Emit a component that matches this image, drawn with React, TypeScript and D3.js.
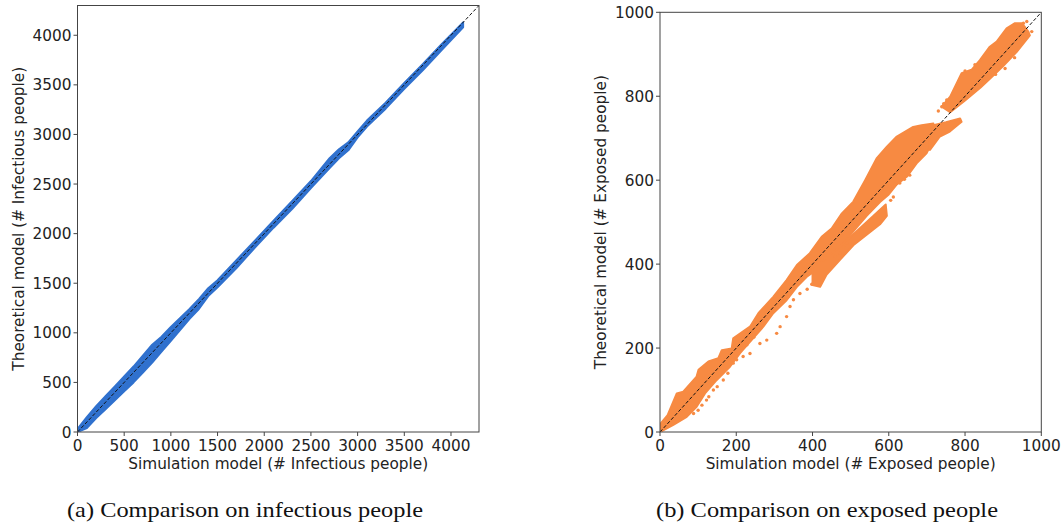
import * as d3 from "d3"

// ---- left panel: infectious people (dense band) ----
const infSim = [0, 100, 200, 300, 400, 500, 600, 700, 800, 900, 1000, 1100, 1200, 1300, 1400, 1500, 1700, 1900, 2100, 2300, 2500, 2700, 2800, 2900, 3000, 3100, 3300, 3500, 3700, 3900, 4130]
const infLow = [0, 40, 140, 230, 320, 410, 500, 600, 700, 810, 920, 1030, 1140, 1240, 1370, 1460, 1650, 1860, 2060, 2250, 2460, 2660, 2760, 2840, 2970, 3080, 3260, 3460, 3650, 3850, 4080]
const infHigh = [30, 150, 260, 360, 460, 560, 660, 770, 880, 960, 1060, 1150, 1240, 1340, 1450, 1530, 1730, 1930, 2130, 2330, 2530, 2760, 2850, 2920, 3030, 3140, 3320, 3520, 3710, 3910, 4130]
const infTicks = [0, 500, 1000, 1500, 2000, 2500, 3000, 3500, 4000]

// ---- right panel: exposed people, outlines of the dense clouds ----
const expMainUpper: [number, number][] = [
  [0, 18], [20, 40], [44, 92], [61, 96], [96, 132], [101, 148], [127, 168], [153, 176], [162, 195],
  [188, 199], [192, 223], [236, 251], [258, 283], [297, 322], [332, 362], [359, 398], [393, 426],
  [424, 465], [450, 485], [477, 521], [507, 549], [538, 600], [568, 652], [595, 680], [621, 704],
  [664, 727], [686, 731], [717, 735],
]
const expMainLower: [number, number][] = [
  [0, 0], [35, 17], [70, 36], [96, 60], [118, 92], [149, 124], [184, 156], [210, 188], [240, 219],
  [271, 251], [297, 283], [332, 314], [359, 346], [385, 370], [420, 392], [445, 410], [472, 440],
  [507, 478], [542, 515], [577, 548], [600, 566], [621, 590], [647, 608], [673, 640], [699, 664], [717, 696],
]
const expSubUpper: [number, number][] = [[400, 392], [430, 410], [470, 440], [520, 482], [560, 515], [592, 542]]
const expSubLower: [number, number][] = [
  [400, 350], [420, 346], [437, 375], [472, 410], [507, 445], [542, 470], [577, 495], [595, 515],
]
const expArmUpper: [number, number][] = [[705, 712], [717, 731], [750, 738], [787, 747]]
const expArmLower: [number, number][] = [[708, 672], [734, 704], [760, 716], [791, 739]]
const expTopUpper: [number, number][] = [
  [739, 775], [761, 799], [791, 855], [817, 863], [839, 886], [865, 918], [883, 930], [909, 962],
  [931, 974], [949, 974], [966, 954],
]
const expTopLower: [number, number][] = [
  [761, 762], [800, 790], [840, 820], [870, 846], [900, 872], [935, 905], [970, 945],
]

const expTrail: [number, number][] = [
  [122, 76], [140, 100], [166, 124], [192, 164], [201, 172], [218, 180], [236, 187],
  [262, 211], [280, 219], [306, 235], [315, 251], [332, 275], [341, 299], [350, 315], [367, 330],
  [110, 64], [128, 84], [150, 108], [178, 140], [212, 200], [228, 208], [246, 226],
  [88, 44], [100, 52], [323, 312], [336, 322], [386, 340], [398, 352],
  [472, 426], [481, 441], [490, 450], [460, 418], [520, 476],
  [603, 585], [616, 590], [629, 593], [641, 602], [655, 612], [605, 552], [612, 560],
  [730, 765], [739, 775], [752, 791], [760, 786], [744, 782],
  [953, 974], [962, 978], [975, 954], [965, 944], [956, 936], [800, 860], [826, 875],
  [880, 852], [905, 866], [930, 892],
]
const expTicks = [0, 200, 400, 600, 800, 1000]

const BLUE = "#3071ce"
const ORANGE = "#f78a42"
const FRAME = "#444"
const TXT = "#222"
const FONT = "DejaVu Sans, sans-serif"

type Panel = {
  left: number
  top: number
  right: number
  bottom: number
  max: number
  ticks: number[]
  xLabel: string
  yLabel: string
  yLabelX: number
}

function Axes({ p, children }: { p: Panel; children: (x: d3.ScaleLinear<number, number>, y: d3.ScaleLinear<number, number>) => any }) {
  const x = d3.scaleLinear().domain([0, p.max]).range([p.left, p.right])
  const y = d3.scaleLinear().domain([0, p.max]).range([p.bottom, p.top])
  const diag = `M${x(0)},${y(0)}L${x(p.max)},${y(p.max)}`
  return (
    <g>
      <defs>
        <clipPath id={`clip${p.left}`}>
          <rect x={p.left} y={p.top} width={p.right - p.left} height={p.bottom - p.top} />
        </clipPath>
      </defs>
      <g clipPath={`url(#clip${p.left})`}>
        {children(x, y)}
        <path d={diag} stroke="#111" strokeWidth={1} strokeDasharray="3.5,2" fill="none" />
      </g>
      <rect x={p.left} y={p.top} width={p.right - p.left} height={p.bottom - p.top} fill="none" stroke={FRAME} strokeWidth={1} />
      {p.ticks.map((t) => (
        <g key={"x" + t}>
          <line x1={x(t)} x2={x(t)} y1={p.bottom} y2={p.bottom + 4} stroke={FRAME} />
          <text x={x(t)} y={p.bottom + 19} textAnchor="middle" fontSize={15.3} fill={TXT} fontFamily={FONT}>
            {t}
          </text>
        </g>
      ))}
      {p.ticks.map((t) => (
        <g key={"y" + t}>
          <line x1={p.left - 4} x2={p.left} y1={y(t)} y2={y(t)} stroke={FRAME} />
          <text x={p.left - 6} y={y(t)} dy="0.36em" textAnchor="end" fontSize={15.3} fill={TXT} fontFamily={FONT}>
            {t}
          </text>
        </g>
      ))}
      <text x={(p.left + p.right) / 2} y={p.bottom + 37} textAnchor="middle" fontSize={15.3} fill={TXT} fontFamily={FONT}>
        {p.xLabel}
      </text>
      <text
        transform={`translate(${p.yLabelX},${(p.top + p.bottom) / 2}) rotate(-90)`}
        textAnchor="middle"
        fontSize={15.3}
        fill={TXT}
        fontFamily={FONT}
      >
        {p.yLabel}
      </text>
    </g>
  )
}

function band(x: d3.ScaleLinear<number, number>, y: d3.ScaleLinear<number, number>, xs: number[], lo: number[], hi: number[]) {
  const area = d3
    .area<number>()
    .x((_, i) => x(xs[i]))
    .y0((_, i) => y(lo[i]))
    .y1((_, i) => y(hi[i]))
  return area(xs) || ""
}

function outline(
  x: d3.ScaleLinear<number, number>,
  y: d3.ScaleLinear<number, number>,
  upper: [number, number][],
  lower: [number, number][],
) {
  const pts = [...upper, ...[...lower].reverse()]
  const line = d3
    .line<[number, number]>()
    .x((d) => x(d[0]))
    .y((d) => y(d[1]))
    .curve(d3.curveLinearClosed)
  return line(pts) || ""
}

export default function App() {
  const left: Panel = {
    left: 77.5, top: 5.5, right: 479, bottom: 432, max: 4300, ticks: infTicks,
    xLabel: "Simulation model (# Infectious people)", yLabel: "Theoretical model (# Infectious people)", yLabelX: 24,
  }
  const right: Panel = {
    left: 660, top: 12.3, right: 1041.3, bottom: 432, max: 1000, ticks: expTicks,
    xLabel: "Simulation model (# Exposed people)", yLabel: "Theoretical model (# Exposed people)", yLabelX: 606,
  }

  return (
    <svg width={1064} height={526} style={{ position: "absolute", left: 0, top: 0, background: "#fff" }}>
      <Axes p={left}>
        {(x, y) => (
          <path d={band(x, y, infSim, infLow, infHigh)} fill={BLUE} stroke={BLUE} strokeWidth={2} strokeLinejoin="round" />
        )}
      </Axes>
      <Axes p={right}>
        {(x, y) => (
          <g fill={ORANGE} stroke={ORANGE} strokeWidth={2} strokeLinejoin="round">
            <path d={outline(x, y, expMainUpper, expMainLower)} />
            <path d={outline(x, y, expSubUpper, expSubLower)} />
            <path d={outline(x, y, expArmUpper, expArmLower)} />
            <path d={outline(x, y, expTopUpper, expTopLower)} />
            {expTrail.map(([a, b], i) => (
              <circle key={i} cx={x(a)} cy={y(b)} r={1.7} stroke="none" />
            ))}
          </g>
        )}
      </Axes>
      <text x={245} y={517} textAnchor="middle" fontSize={21} fontFamily="Liberation Serif, serif" fill="#111" textLength={356} lengthAdjust="spacingAndGlyphs">
        (a) Comparison on infectious people
      </text>
      <text x={827} y={517} textAnchor="middle" fontSize={21} fontFamily="Liberation Serif, serif" fill="#111" textLength={342} lengthAdjust="spacingAndGlyphs">
        (b) Comparison on exposed people
      </text>
    </svg>
  )
}
